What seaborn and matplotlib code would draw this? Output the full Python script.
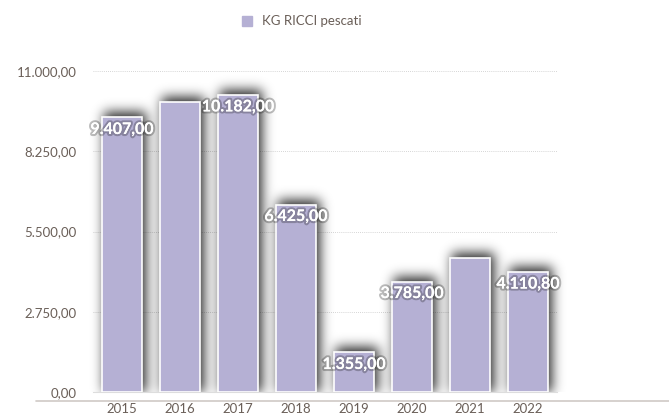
import matplotlib
matplotlib.use('Agg')
import matplotlib.pyplot as plt
import matplotlib.patheffects as pe
from matplotlib.lines import Line2D
from matplotlib.patches import Rectangle
import numpy as np
import seaborn as sns

# data
years = ['2015', '2016', '2017', '2018', '2019', '2020', '2021', '2022']
kg_ricci = [9407.00, 9950.00, 10182.00, 6425.00, 1355.00, 3785.00, 4600.00, 4110.80]
show_label = [True, False, True, True, True, True, False, True]
y_ticks = [0, 2750, 5500, 8250, 11000]
series_name = 'KG RICCI pescati'

bar_color = '#b5b0d4'
text_color = '#6a5f58'


def it_fmt(v):
    # italian number format: 11.000,00
    s = f'{v:,.2f}'
    return s.replace(',', 'X').replace('.', ',').replace('X', '.')


def blur(img, sigma):
    r = int(3 * sigma)
    k = np.exp(-0.5 * (np.arange(-r, r + 1) / sigma) ** 2)
    k /= k.sum()
    img = np.apply_along_axis(lambda m: np.convolve(m, k, mode='same'), 0, img)
    img = np.apply_along_axis(lambda m: np.convolve(m, k, mode='same'), 1, img)
    return img


sns.set_theme(style='white')
plt.rcParams['font.family'] = ['Lato', 'DejaVu Sans']

W, H = 669, 416
fig = plt.figure(figsize=(W / 100, H / 100), dpi=100)
ax = fig.add_axes([93 / W, 1 - 392 / H, (557 - 93) / W, (392 - 71) / H])

sns.barplot(x=years, y=kg_ricci, color=bar_color, saturation=1, width=0.69,
            edgecolor='white', linewidth=1.2, ax=ax, zorder=3)
ax.set_xlim(-0.5, 7.5)
ax.set_ylim(0, 11000)

# blurred drop shadow behind the bars (shifted up and right)
fig.canvas.draw()
renderer = fig.canvas.get_renderer()
mask = np.zeros((H, W))
for p in ax.patches:
    bb = p.get_window_extent(renderer)
    x0, x1 = int(round(bb.x0 + 2)), int(round(bb.x1 + 4))
    y0, y1 = int(round(bb.y0)), int(round(bb.y1 + 5))
    mask[max(y0, 0):min(y1, H), max(x0, 0):min(x1, W)] = 1
mask = blur(mask, 6.0)
# keep the shadow above the baseline only
base = int(round(ax.get_window_extent(renderer).y0))
mask[:base, :] = 0
rgba = np.zeros((H, W, 4))
rgba[..., 3] = np.clip(mask * 0.85, 0, 1)
ax.imshow(rgba, extent=(0, 1, 0, 1), transform=fig.transFigure, origin='lower',
          aspect='auto', zorder=2, clip_on=False, interpolation='bilinear')
ax.set_xlim(-0.5, 7.5)
ax.set_ylim(0, 11000)

for i, (v, show) in enumerate(zip(kg_ricci, show_label)):
    if not show:
        continue
    ax.annotate(it_fmt(v), xy=(i, v), xytext=(0, -9), textcoords='offset points',
                ha='center', va='center', color='white', fontsize=11.5,
                fontweight='bold', zorder=5,
                path_effects=[pe.withStroke(linewidth=3, foreground='black', alpha=0.25),
                              pe.Normal()])

ax.set_yticks(y_ticks)
ax.set_yticklabels([it_fmt(t) for t in y_ticks])
ax.tick_params(axis='y', length=0, pad=12, labelsize=9.5, labelcolor=text_color)
ax.tick_params(axis='x', length=0, pad=8, labelsize=9.5, labelcolor=text_color)
ax.yaxis.grid(True, linestyle=(0, (1, 1.5)), color='#c8c8c8', linewidth=0.6, zorder=0)
ax.set_axisbelow(True)
for side in ['top', 'right', 'left']:
    ax.spines[side].set_visible(False)
ax.spines['bottom'].set_color('#dddddd')
ax.spines['bottom'].set_linewidth(0.8)

# long baseline under the tick area
fig.add_artist(Line2D([36 / W, 1], [1 - 401 / H] * 2, color='#cfcac6', linewidth=1.2))

# legend at the top
fig.add_artist(Rectangle((242 / W, 1 - 26 / H), 10 / W, 10 / H,
                         transform=fig.transFigure, color=bar_color))
fig.text(262 / W, 1 - 21 / H, series_name, ha='left', va='center',
         fontsize=9.5, color=text_color)

fig.savefig('out.png', dpi=100)
